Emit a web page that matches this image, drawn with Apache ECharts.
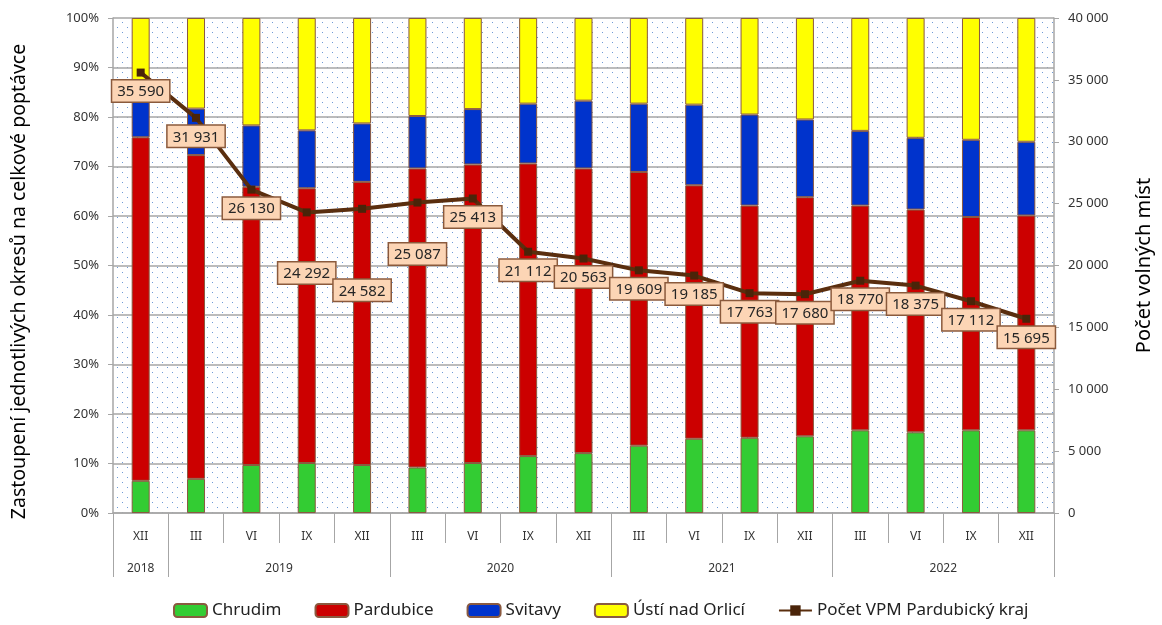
<!DOCTYPE html>
<html>
<head>
<meta charset="utf-8">
<script src="https://cdn.jsdelivr.net/npm/echarts@6/dist/echarts.min.js"></script>
<style>
  html, body { margin: 0; padding: 0; background: #fff; }
  #chart { width: 1162px; height: 625px; }
</style>
</head>
<body>
<div id="chart"></div>
<script>
// quarters (XII 2018 .. XII 2022)
const quarters = ['XII', 'III', 'VI', 'IX', 'XII', 'III', 'VI', 'IX', 'XII', 'III', 'VI', 'IX', 'XII', 'III', 'VI', 'IX', 'XII'];
const years = ['2018', '2019', '2020', '2021', '2022'];
const yearSpans = [1, 4, 4, 4, 4];

// shares of districts, %
const chrudim   = [6.5, 6.9, 9.7, 10.1, 9.7, 9.2, 10.1, 11.5, 12.1, 13.6, 15.0, 15.2, 15.5, 16.7, 16.3, 16.7, 16.7];
const pardubice = [69.4, 65.4, 56.2, 55.5, 57.2, 60.4, 60.3, 59.1, 57.5, 55.3, 51.2, 46.9, 48.3, 45.4, 45.0, 43.1, 43.4];
const svitavy   = [7.6, 9.4, 12.4, 11.7, 11.8, 10.6, 11.2, 12.1, 13.7, 13.8, 16.3, 18.4, 15.7, 15.1, 14.5, 15.6, 14.9];
const usti      = [16.5, 18.3, 21.7, 22.7, 21.3, 19.8, 18.4, 17.3, 16.7, 17.3, 17.5, 19.5, 20.5, 22.8, 24.2, 24.6, 25.0];

// number of vacancies, Pardubice region
const vpm = [35590, 31931, 26130, 24292, 24582, 25087, 25413, 21112, 20563, 19609, 19185, 17763, 17680, 18770, 18375, 17112, 15695];

const fmt = v => String(v).replace(/\B(?=(\d{3})+(?!\d))/g, ' ');

// year boundaries and centres on the 0..17 scale
const yearEdges = [0];
yearSpans.forEach(s => yearEdges.push(yearEdges[yearEdges.length - 1] + s));
const yearCentres = yearSpans.map((s, i) => yearEdges[i] + s / 2);

// dotted plot background
const tile = document.createElement('canvas');
tile.width = 10;
tile.height = 10;
const tctx = tile.getContext('2d');
tctx.fillStyle = '#fff';
tctx.fillRect(0, 0, 10, 10);
tctx.fillStyle = '#6f9ad6';
tctx.fillRect(2, 2, 1, 1);
tctx.fillRect(7, 7, 1, 1);

const FONT = 'Noto Sans';
const GRID = '#a6a6a6';

// a few labels were moved down by hand in the original
const labelShift = { 3: 42, 4: 63, 5: 33 };

const barBase = {
  type: 'bar',
  stack: 'share',
  barWidth: 18,
  itemStyle: { borderColor: '#8a5a40', borderWidth: 1 }
};

const chart = echarts.init(document.getElementById('chart'));
chart.setOption({
  animation: false,
  textStyle: { fontFamily: FONT },
  grid: {
    left: 113, right: 105, top: 18, bottom: 112,
    show: true,
    backgroundColor: { image: tile, repeat: 'repeat' },
    borderWidth: 0
  },
  legend: {
    bottom: 1,
    left: 168,
    itemWidth: 33,
    itemHeight: 13,
    itemGap: 33,
    textStyle: { fontSize: 17, color: '#222', fontFamily: FONT },
    data: ['Chrudim', 'Pardubice', 'Svitavy', 'Ústí nad Orlicí', 'Počet VPM Pardubický kraj']
  },
  xAxis: [
    {
      type: 'category',
      data: quarters,
      position: 'bottom',
      axisLine: { lineStyle: { color: GRID, width: 1.5 } },
      axisTick: { show: true, alignWithLabel: false, interval: 0, length: 30, lineStyle: { color: GRID } },
      axisLabel: { interval: 0, margin: 18, fontSize: 12, color: '#333' }
    },
    {
      // year labels, centred under their quarters
      type: 'value',
      min: 0,
      max: quarters.length,
      position: 'bottom',
      offset: 30,
      axisLine: { show: false },
      splitLine: { show: false },
      axisTick: { show: false },
      axisLabel: {
        customValues: yearCentres,
        margin: 20,
        fontSize: 12,
        color: '#333',
        formatter: v => years[yearCentres.indexOf(v)] || ''
      }
    },
    {
      // year separators
      type: 'category',
      data: quarters,
      position: 'bottom',
      offset: 30,
      axisLine: { show: false },
      axisLabel: { show: false },
      axisTick: {
        show: true,
        alignWithLabel: false,
        length: 34,
        interval: i => yearEdges.indexOf(i) >= 0,
        lineStyle: { color: GRID }
      }
    }
  ],
  yAxis: [
    {
      type: 'value',
      min: 0, max: 100, interval: 10,
      name: 'Zastoupení jednotlivých okresů na celkové poptávce',
      nameLocation: 'middle',
      nameGap: 84,
      nameTextStyle: { fontSize: 19.5, color: '#000', padding: [0, 32, 0, 0] },
      axisLine: { show: true, lineStyle: { color: GRID, width: 1.5 } },
      axisTick: { show: true, length: 5, lineStyle: { color: GRID } },
      axisLabel: { formatter: '{value}%', fontSize: 13, color: '#333', margin: 14 },
      splitLine: { lineStyle: { color: GRID, width: 1.5 } }
    },
    {
      type: 'value',
      min: 0, max: 40000, interval: 5000,
      name: 'Počet volných míst',
      nameLocation: 'middle',
      nameGap: 80,
      nameRotate: 90,
      nameTextStyle: { fontSize: 20, color: '#000' },
      axisLine: { show: true, lineStyle: { color: GRID, width: 1.5 } },
      axisTick: { show: true, length: 5, lineStyle: { color: GRID } },
      axisLabel: { formatter: v => fmt(v), fontSize: 13, color: '#333', margin: 14 },
      splitLine: { show: false }
    }
  ],
  series: [
    Object.assign({ name: 'Chrudim', data: chrudim, color: '#33cc33' }, barBase),
    Object.assign({ name: 'Pardubice', data: pardubice, color: '#cc0000' }, barBase),
    Object.assign({ name: 'Svitavy', data: svitavy, color: '#0033cc' }, barBase),
    Object.assign({ name: 'Ústí nad Orlicí', data: usti, color: '#ffff00' }, barBase),
    {
      name: 'Počet VPM Pardubický kraj',
      type: 'line',
      yAxisIndex: 1,
      z: 5,
      color: '#5a2e0e',
      symbol: 'rect',
      symbolSize: 8,
      lineStyle: { width: 4, color: '#5a2e0e' },
      itemStyle: { color: '#4a2409' },
      label: {
        show: true,
        position: 'bottom',
        distance: 4,
        formatter: p => fmt(p.value),
        fontSize: 15,
        color: '#262626',
        backgroundColor: '#fcd5b5',
        borderColor: '#8b5a3c',
        borderWidth: 1.5,
        padding: [4, 5, 2, 5]
      },
      data: vpm.map((v, i) => labelShift[i]
        ? { value: v, label: { offset: [0, labelShift[i]] } }
        : v)
    }
  ]
});
</script>
</body>
</html>
